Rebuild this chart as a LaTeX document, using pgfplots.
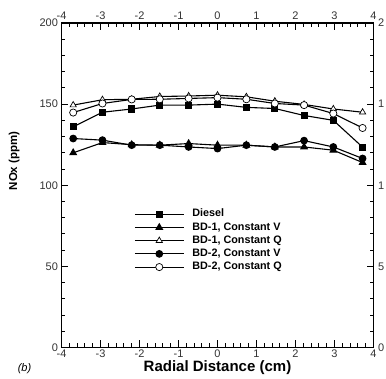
\documentclass[border=0pt]{standalone}
\usepackage{fontspec}
\setmainfont{Liberation Sans}
\usepackage{pgfplots}
\pgfplotsset{compat=1.18}
\begin{document}
\begin{tikzpicture}[x=1pt,y=1pt]
\begin{axis}[
  at={(0,0)}, anchor=south west,
  scale only axis, width=312pt, height=324.5pt,
  xmin=-4, xmax=4, ymin=0, ymax=200,
  xtick={-4,...,4}, ytick={0,50,...,200},
  minor x tick num=4, minor y tick num=4,
  tick align=inside, xtick pos=both, ytick pos=both,
  major tick length=7pt, minor tick length=4pt,
  axis line style={line width=1.3pt},
  every tick/.style={black, line width=0.9pt},
  ticklabel style={font=\fontsize{11}{12}\selectfont, text=black!80},
  xticklabel style={yshift=1pt},
  /pgf/number format/assume math mode=true,
  xlabel={Radial Distance (cm)},
  xlabel style={at={(axis description cs:0.5,-0.074)}, anchor=base, font=\bfseries\fontsize{15}{16}\selectfont},
  ylabel={NOx (ppm)},
  ylabel style={at={(axis description cs:-0.152,0.575)}, anchor=center, font=\bfseries\fontsize{11.5}{12}\selectfont},
  clip=false,
  every axis plot/.append style={line width=1.1pt, black},
  legend style={draw=none, fill=none, at={(axis cs:-2.14,86)}, anchor=north west,
    font=\bfseries\fontsize{10.8}{12}\selectfont, inner sep=0pt, row sep=1pt,
    nodes={inner sep=1pt, text height=7.8pt, text depth=2.4pt},
    /tikz/every odd column/.append style={column sep=7pt}},
  legend cell align=left,
  legend image code/.code={\draw[mark repeat=2,mark phase=2] plot coordinates {(0pt,0pt) (24.5pt,0pt) (49pt,0pt)};},
]
\addplot[mark=square*, mark size=3pt, mark options={solid,fill=black}] coordinates {
(-3.7,136) (-2.95,145) (-2.2,147) (-1.48,149.4) (-0.74,149.4) (0,150) (0.74,148) (1.47,147.3) (2.22,143) (2.97,140) (3.72,123.5)};
\addlegendentry{Diesel}
\addplot[mark=triangle*, mark size=3.6pt, mark options={solid,fill=black}] coordinates {
(-3.7,120) (-2.95,126.3) (-2.2,125) (-1.48,124.7) (-0.74,125.7) (0,124.7) (0.74,124.7) (1.47,123.6) (2.22,123.6) (2.97,121.6) (3.72,114)};
\addlegendentry{BD-1, Constant V}
\addplot[mark=triangle*, mark size=3.6pt, mark options={solid,fill=white,line width=0.7pt}] coordinates {
(-3.7,149.4) (-2.95,152.7) (-2.2,153) (-1.48,154.7) (-0.74,155) (0,155.5) (0.74,154.5) (1.47,151.8) (2.22,149.8) (2.97,147) (3.72,145)};
\addlegendentry{BD-1, Constant Q}
\addplot[mark=*, mark size=3.3pt, mark options={solid,fill=black}] coordinates {
(-3.7,128.8) (-2.95,127.8) (-2.2,124.7) (-1.48,124.7) (-0.74,123.6) (0,122.6) (0.74,124.7) (1.47,123.6) (2.22,127.5) (2.97,123.6) (3.72,116.5)};
\addlegendentry{BD-2, Constant V}
\addplot[mark=*, mark size=3.6pt, mark options={solid,fill=white,line width=0.7pt}] coordinates {
(-3.7,144.8) (-2.95,150.4) (-2.2,152.9) (-1.48,153) (-0.74,153.5) (0,154) (0.74,153) (1.47,150.4) (2.22,149.4) (2.97,144.2) (3.72,135.3)};
\addlegendentry{BD-2, Constant Q}
\node[anchor=base, font=\itshape\fontsize{11}{12}\selectfont] at (axis description cs:-0.1186,-0.074) {(b)};
\end{axis}
\begin{axis}[
  at={(0,0)}, anchor=south west,
  scale only axis, width=312pt, height=324.5pt,
  xmin=-4, xmax=4, ymin=0, ymax=200,
  axis x line*=top, axis y line*=right,
  xtick={-4,...,4}, ytick={0,50,...,200},
  yticklabels={0,5,1,1,2},
  yticklabel style={anchor=west, xshift=1pt},
  tick style={draw=none},
  axis line style={draw=none},
  ticklabel style={font=\fontsize{11}{12}\selectfont, text=black!80},
  /pgf/number format/assume math mode=true,
]
\addplot[draw=none] coordinates {(0,0)};
\end{axis}
\pgfresetboundingbox
\useasboundingbox (-61.5,-30.5) rectangle (324.5,347.5);
\end{tikzpicture}
\end{document}
